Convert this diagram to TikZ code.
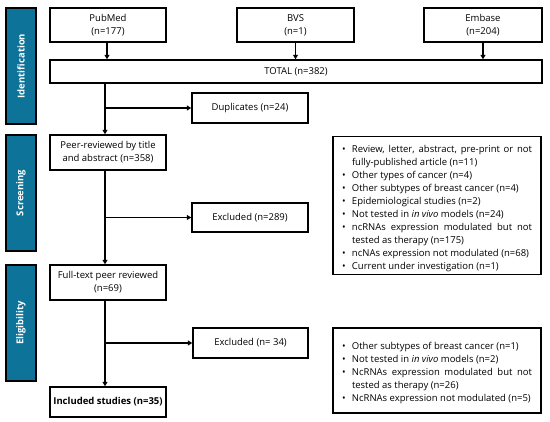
\documentclass[tikz,border=0pt]{standalone}
\usepackage{fontspec}
\setmainfont{Open Sans}
\usetikzlibrary{arrows.meta,calc}
\definecolor{sidebar}{RGB}{13,115,152}
\newcommand\itm[1]{\par\noindent\hangindent=10pt\hangafter=1\makebox[10pt][l]{\textbullet}#1}
\tikzset{
  box/.style={draw=black,line width=1.4pt,fill=white,align=center,font=\fontsize{9.5}{13}\selectfont,inner sep=2pt},
  listbox/.style={draw=black,line width=1.4pt,fill=white,font=\fontsize{9.5}{13}\selectfont,inner xsep=9pt,inner ysep=3pt,text width=190pt,align=justify},
  side/.style={draw=black,line width=1.2pt,fill=sidebar,text=white,font=\fontsize{9.5}{10}\selectfont\bfseries,minimum width=30pt,minimum height=116pt,inner sep=0pt},
  arr/.style={line width=1.3pt,-{Triangle[length=4.5pt,width=5pt]}}
}
\begin{document}
\begin{tikzpicture}[x=1pt,y=-1pt]
\useasboundingbox (0,0) rectangle (550,422);
% side bars
\node[side] (s1) at (21,66) {\rotatebox{90}{Identification}};
\node[side] (s2) at (21,193) {\rotatebox{90}{Screening}};
\node[side] (s3) at (21,323) {\rotatebox{90}{Eligibility}};
% sources
\node[box,minimum width=116pt,minimum height=34pt] (pub) at (108,25) {PubMed\\(n=177)};
\node[box,minimum width=117pt,minimum height=34pt] (bvs) at (295.5,25) {BVS\\(n=1)};
\node[box,minimum width=118pt,minimum height=34pt] (emb) at (483,25) {Embase\\(n=204)};
\node[box,minimum width=492pt,minimum height=23pt] (tot) at (296,71.5) {TOTAL (n=382)};
\node[box,minimum width=116pt,minimum height=30pt] (dup) at (250,108) {Duplicates (n=24)};
\node[box,minimum width=116pt,minimum height=35pt] (peer) at (108,152.5) {Peer-reviewed by title\\and abstract (n=358)};
\node[box,minimum width=116pt,minimum height=29pt] (ex1) at (250,217.5) {Excluded (n=289)};
\node[listbox,minimum height=137pt] (l1) at (437,205.5) {%
\itm{Review, letter, abstract, pre-print or not fully-published article (n=11)}
\itm{Other types of cancer (n=4)}
\itm{Other subtypes of breast cancer (n=4)}
\itm{Epidemiological studies (n=2)}
\itm{Not tested in \textit{in vivo} models (n=24)}
\itm{ncRNAs expression modulated but not tested as therapy (n=175)}
\itm{ncNAs expression not modulated (n=68)}
\itm{Current under investigation (n=1)}};
\node[box,minimum width=116pt,minimum height=35pt] (full) at (108,282.5) {Full-text peer reviewed\\(n=69)};
\node[box,minimum width=115pt,minimum height=30pt] (ex2) at (250.5,343) {Excluded (n= 34)};
\node[listbox,minimum height=85pt] (l2) at (437,370.5) {%
\itm{Other subtypes of breast cancer (n=1)}
\itm{Not tested in \textit{in vivo} models (n=2)}
\itm{NcRNAs expression modulated but not tested as therapy (n=26)}
\itm{NcRNAs expression not modulated (n=5)}};
\node[box,minimum width=116pt,minimum height=30pt,font=\fontsize{9.5}{13}\selectfont\bfseries] (inc) at (108,402) {Included studies (n=35)};
% connectors
\coordinate (m) at (105,0);
\draw[arr] ([xshift=-1pt]pub.south) -- ([xshift=-1pt]pub.south |- tot.north);
\draw[arr] (bvs.south) -- (bvs.south |- tot.north);
\draw[arr] (emb.south) -- (emb.south |- tot.north);
\draw[arr] (tot.south -| m) -- (peer.north -| m);
\draw[arr] (dup.west -| m) -- (dup.west);
\draw[arr] (peer.south -| m) -- (full.north -| m);
\draw[arr] (ex1.west -| m) -- (ex1.west);
\draw[arr] (full.south -| m) -- (inc.north -| m);
\draw[arr] (ex2.west -| m) -- (ex2.west);
\end{tikzpicture}
\end{document}
